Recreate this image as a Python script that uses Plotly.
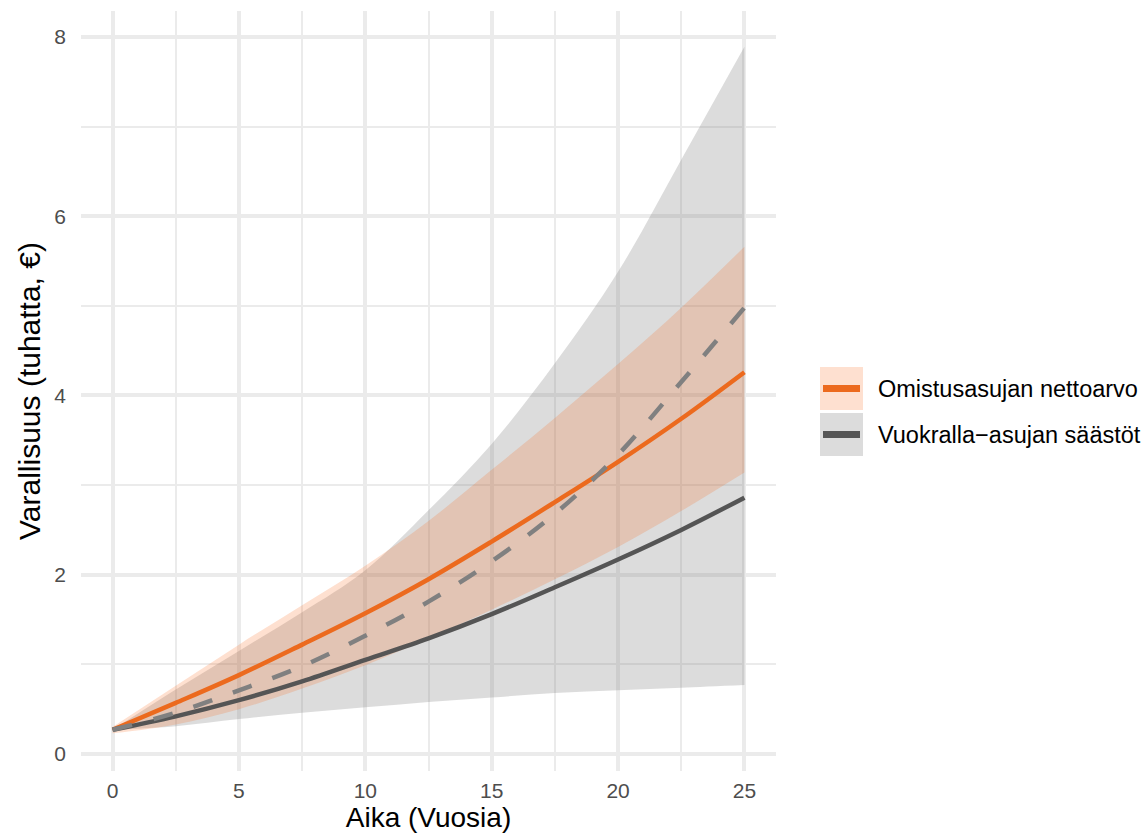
import plotly.graph_objects as go

# ---- data ----
years = [0, 2.5, 5, 7.5, 10, 12.5, 15, 17.5, 20, 22.5, 25]

owner_net = [0.27, 0.57, 0.88, 1.22, 1.57, 1.95, 2.37, 2.81, 3.26, 3.74, 4.26]
owner_low = [0.23, 0.33, 0.50, 0.73, 0.99, 1.29, 1.61, 1.95, 2.31, 2.71, 3.14]
owner_high = [0.30, 0.76, 1.22, 1.66, 2.10, 2.60, 3.17, 3.75, 4.35, 4.98, 5.66]

renter_savings = [0.27, 0.42, 0.60, 0.81, 1.05, 1.29, 1.56, 1.86, 2.17, 2.50, 2.86]
renter_median = [0.27, 0.46, 0.71, 0.98, 1.32, 1.70, 2.15, 2.68, 3.34, 4.15, 4.98]
renter_low = [0.27, 0.31, 0.39, 0.46, 0.52, 0.58, 0.63, 0.68, 0.71, 0.74, 0.77]
renter_high = [0.27, 0.72, 1.15, 1.58, 2.05, 2.72, 3.46, 4.36, 5.38, 6.63, 7.89]

legend_labels = ["Omistusasujan nettoarvo", "Vuokralla\u2212asujan säästöt"]
x_ticks = [0, 5, 10, 15, 20, 25]
y_ticks = [0, 2, 4, 6, 8]

# ---- styles ----
FONT = "Liberation Sans, Arial, sans-serif"
ORANGE = "#EC6A1E"
ORANGE_FILL = "rgba(248,100,20,0.2)"
DARK = "#555555"
GREY_FILL = "rgba(128,128,128,0.28)"
DASH_COL = "#808080"
GRID = "#EBEBEB"

W, H = 1145, 836
PL, PR, PT, PB = 81, 776, 11, 771  # plot area in pixels

fig = go.Figure()

spline = dict(shape="spline", smoothing=1.0)

# grey ribbon (renter)
fig.add_trace(go.Scatter(x=years, y=renter_low, mode="lines",
                         line=dict(width=0, **spline), showlegend=False, hoverinfo="skip"))
fig.add_trace(go.Scatter(x=years, y=renter_high, mode="lines", fill="tonexty",
                         fillcolor=GREY_FILL, line=dict(width=0, **spline),
                         showlegend=False, hoverinfo="skip"))
# orange ribbon (owner)
fig.add_trace(go.Scatter(x=years, y=owner_low, mode="lines",
                         line=dict(width=0, **spline), showlegend=False, hoverinfo="skip"))
fig.add_trace(go.Scatter(x=years, y=owner_high, mode="lines", fill="tonexty",
                         fillcolor=ORANGE_FILL, line=dict(width=0, **spline),
                         showlegend=False, hoverinfo="skip"))
# lines
fig.add_trace(go.Scatter(x=years, y=owner_net, mode="lines", name=legend_labels[0],
                         line=dict(color=ORANGE, width=4.5, **spline), showlegend=False))
fig.add_trace(go.Scatter(x=years, y=renter_savings, mode="lines", name=legend_labels[1],
                         line=dict(color=DARK, width=4.5, **spline), showlegend=False))
fig.add_trace(go.Scatter(x=years, y=renter_median, mode="lines", name="median",
                         line=dict(color=DASH_COL, width=4.5, dash="20px,22px", **spline),
                         showlegend=False))

# ---- manual legend (ggplot style keys) ----
def px_x(p):
    return (p - PL) / (PR - PL)


def px_y(p):
    return (PB - p) / (PB - PT)


shapes = []
annotations = []
keys = [(367, 410, ORANGE_FILL, ORANGE), (413, 456, GREY_FILL, DARK)]
for (y0, y1, fillc, linec), label in zip(keys, legend_labels):
    shapes.append(dict(type="rect", xref="paper", yref="paper",
                       x0=px_x(820), x1=px_x(863), y0=px_y(y1), y1=px_y(y0),
                       fillcolor=fillc, line=dict(width=0), layer="above"))
    yc = (y0 + y1) / 2
    shapes.append(dict(type="line", xref="paper", yref="paper",
                       x0=px_x(823), x1=px_x(860), y0=px_y(yc), y1=px_y(yc),
                       line=dict(color=linec, width=7), layer="above"))
    annotations.append(dict(text=label, xref="paper", yref="paper",
                            x=px_x(876), y=px_y(yc), xanchor="left", yanchor="middle",
                            showarrow=False, font=dict(family=FONT, size=23.5, color="black")))

fig.update_layout(
    width=W, height=H,
    margin=dict(l=PL, r=W - PR, t=PT, b=H - PB, pad=0, autoexpand=False),
    paper_bgcolor="white", plot_bgcolor="white",
    font=dict(family=FONT, color="#4D4D4D"),
    showlegend=False,
    shapes=shapes,
    annotations=annotations,
    xaxis=dict(
        range=[-1.25, 26.25], tickvals=x_ticks, showgrid=True, gridcolor=GRID, gridwidth=3.5,
        zeroline=False, showline=False, ticks="", automargin=False,
        tickfont=dict(family=FONT, size=21, color="#4D4D4D"), ticklabelstandoff=5,
        minor=dict(dtick=2.5, tick0=0, showgrid=True, gridcolor=GRID, gridwidth=1.8),
        title=dict(text="Aika (Vuosia)", font=dict(family=FONT, size=28, color="black"), standoff=3),
    ),
    yaxis=dict(
        range=[-0.19, 8.29], tickvals=y_ticks, showgrid=True, gridcolor=GRID, gridwidth=3.5,
        zeroline=False, showline=False, ticks="", automargin=False,
        tickfont=dict(family=FONT, size=21, color="#4D4D4D"), ticklabelstandoff=14,
        minor=dict(dtick=1, tick0=0, showgrid=True, gridcolor=GRID, gridwidth=1.8),
        title=dict(text="Varallisuus (tuhatta, €)", font=dict(family=FONT, size=30, color="black"), standoff=4),
    ),
)

fig.write_html("out.html",
               config={"displayModeBar": False},
               post_script="document.body.style.margin='0';document.body.style.padding='0';")
